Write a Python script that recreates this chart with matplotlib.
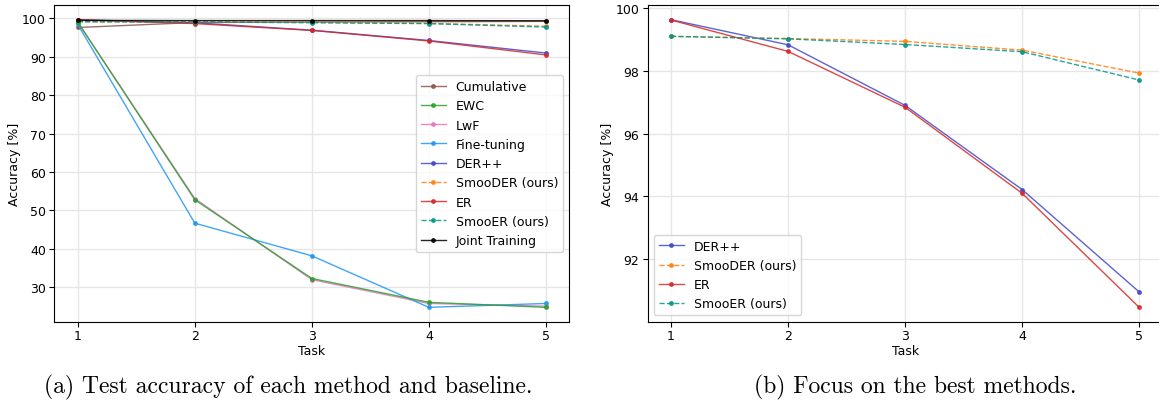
import matplotlib

matplotlib.use("Agg")
import matplotlib.pyplot as plt

tasks = [1, 2, 3, 4, 5]

cumulative = [97.6, 98.9, 99.0, 99.1, 99.2]
ewc = [99.0, 52.8, 32.3, 26.1, 24.8]
lwf = [99.0, 53.1, 32.0, 25.8, 25.1]
fine_tuning = [98.4, 46.7, 38.2, 24.8, 25.8]
der_pp = [99.63, 98.83, 96.90, 94.22, 90.96]
smooder = [99.10, 99.03, 98.94, 98.66, 97.93]
er = [99.62, 98.62, 96.84, 94.10, 90.47]
smooer = [99.10, 99.02, 98.84, 98.61, 97.71]
joint = [99.45, 99.4, 99.4, 99.4, 99.35]

captions = ["(a) Test accuracy of each method and baseline.", "(b) Focus on the best methods."]

STYLE = {
    "Cumulative": dict(color="#8c564b", ls="-", z=2),
    "EWC": dict(color="#2ca02c", ls="-", z=3),
    "LwF": dict(color="#e377c2", ls="-", z=2),
    "Fine-tuning": dict(color="#2196f3", ls="-", z=2),
    "DER++": dict(color="#3f48cc", ls="-", z=2),
    "SmooDER (ours)": dict(color="#ff7f0e", ls="--", z=2),
    "ER": dict(color="#d62728", ls="-", z=2),
    "SmooER (ours)": dict(color="#009688", ls="--", z=2),
    "Joint Training": dict(color="black", ls="-", z=3),
}

all_series = {
    "Cumulative": cumulative,
    "EWC": ewc,
    "LwF": lwf,
    "Fine-tuning": fine_tuning,
    "DER++": der_pp,
    "SmooDER (ours)": smooder,
    "ER": er,
    "SmooER (ours)": smooer,
    "Joint Training": joint,
}
best = ["DER++", "SmooDER (ours)", "ER", "SmooER (ours)"]

plt.rcParams["font.size"] = 9

fig = plt.figure(figsize=(11.59, 4.10), dpi=100)
ax1 = fig.add_axes([0.0469, 0.2129, 0.4443, 0.7717])
ax2 = fig.add_axes([0.5588, 0.2129, 0.4443, 0.7717])


def draw(ax, names):
    for name in names:
        st = STYLE[name]
        ax.plot(tasks, all_series[name], label=name, color=st["color"], ls=st["ls"],
                lw=1.0, marker="o", markersize=2.5, alpha=0.85, zorder=st["z"])
    ax.set_xticks(tasks)
    ax.tick_params(axis="x", pad=2)
    ax.tick_params(axis="y", pad=2.5)
    ax.set_xlabel("Task", labelpad=1)
    ax.set_ylabel("Accuracy [%]", labelpad=1)
    ax.grid(True, color="#e6e6e6", lw=1.0)
    ax.set_axisbelow(True)


draw(ax1, list(all_series.keys()))
ax1.legend(loc="center right", fontsize=9)
draw(ax2, best)
ax2.legend(loc="lower left", fontsize=9)

fig.text(0.249, 0.055, captions[0], ha="center", va="center", fontsize=17, family="cmr10")
fig.text(0.790, 0.055, captions[1], ha="center", va="center", fontsize=17, family="cmr10")

fig.savefig("out.png", dpi=100)
